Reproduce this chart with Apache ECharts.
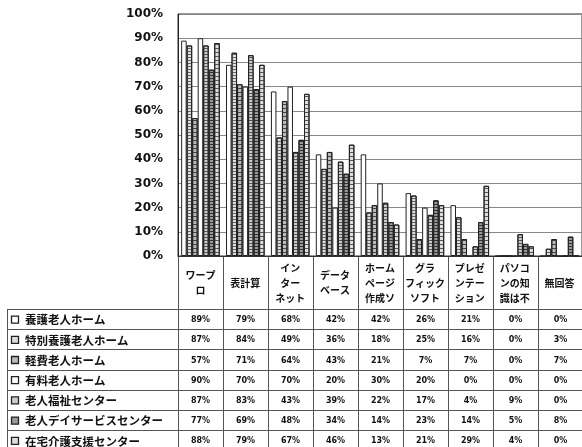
<!DOCTYPE html>
<html>
<head>
<meta charset="utf-8">
<script src="https://cdn.jsdelivr.net/npm/echarts@6/dist/echarts.min.js"></script>
<style>
html,body{margin:0;padding:0;background:#fff}
#main{width:582px;height:447px}
</style>
</head>
<body>
<div id="main"></div>
<script>
// 項目
var categories = ['ワープ\nロ', '表計算', 'イン\nター\nネット', 'データ\nベース', 'ホーム\nページ\n作成ソ', 'グラ\nフィック\nソフト', 'プレゼ\nンテー\nション', 'パソコ\nンの知\n識は不', '無回答'];
var seriesNames = ['養護老人ホーム', '特別養護老人ホーム', '軽費老人ホーム', '有料老人ホーム', '老人福祉センター', '老人デイサービスセンター', '在宅介護支援センター'];
// 施設別の割合 (%)
var yougo    = [89, 79, 68, 42, 42, 26, 21, 0, 0];
var tokuyou  = [87, 84, 49, 36, 18, 25, 16, 0, 3];
var keihi    = [57, 71, 64, 43, 21, 7, 7, 0, 7];
var yuuryou  = [90, 70, 70, 20, 30, 20, 0, 0, 0];
var fukushi  = [87, 83, 43, 39, 22, 17, 4, 9, 0];
var dayserv  = [77, 69, 48, 34, 14, 23, 14, 5, 8];
var zaitaku  = [88, 79, 67, 46, 13, 21, 29, 4, 0];
var yTicks = [0, 10, 20, 30, 40, 50, 60, 70, 80, 90, 100];

var allData = [yougo, tokuyou, keihi, yuuryou, fukushi, dayserv, zaitaku];

// 見た目 (白黒の模様)
var styles = [
  {color: '#fff', decal: null},
  {color: '#ddd', decal: {symbol: 'rect', symbolSize: 1, dashArrayX: [1, 0], dashArrayY: [1, 2], color: '#666'}},
  {color: '#bbb', decal: {symbol: 'rect', symbolSize: 1, dashArrayX: [1, 0], dashArrayY: [1, 3], color: '#444'}},
  {color: '#fff', decal: null},
  {color: '#ccc', decal: {symbol: 'rect', symbolSize: 1, dashArrayX: [1, 0], dashArrayY: [1, 2], color: '#555'}},
  {color: '#999', decal: {symbol: 'rect', symbolSize: 1, dashArrayX: [1, 0], dashArrayY: [1, 2], color: '#333'}},
  {color: '#ddd', decal: {symbol: 'rect', symbolSize: 1, dashArrayX: [1, 0], dashArrayY: [1, 3], color: '#555'}}
];

var gridLeft = 178, gridTop = 14, gridH = 242, colW = 45;
var axisY = gridTop + gridH;
var headBottom = 309, rowH = 20.2, tableLeft = 7;
var lineColor = '#555';
var jp = '"Noto Sans CJK JP", sans-serif';

var chart = echarts.init(document.getElementById('main'));

var series = seriesNames.map(function (name, i) {
  return {
    name: name,
    type: 'bar',
    data: allData[i],
    barGap: '0%',
    barCategoryGap: '14%',
    itemStyle: {
      color: styles[i].color,
      borderColor: '#222',
      borderWidth: 1,
      decal: styles[i].decal
    }
  };
});

// データテーブル
var graphics = [];
function hline(y, x1, x2) {
  graphics.push({type: 'line', shape: {x1: x1, y1: y, x2: x2, y2: y}, style: {stroke: lineColor, lineWidth: 1}, silent: true});
}
function vline(x, y1, y2) {
  graphics.push({type: 'line', shape: {x1: x, y1: y1, x2: x, y2: y2}, style: {stroke: lineColor, lineWidth: 1}, silent: true});
}
for (var r = 0; r <= seriesNames.length; r++) {
  hline(Math.round(headBottom + r * rowH) + 0.5, tableLeft, 582);
}
vline(tableLeft + 0.5, headBottom, 447);
for (var c = 0; c <= categories.length; c++) {
  vline(gridLeft + c * colW + 0.5, axisY, 447);
}
seriesNames.forEach(function (name, r) {
  var cy = headBottom + r * rowH + rowH / 2 + 1;
  graphics.push({type: 'rect', shape: {x: 11.5, y: cy - 4, width: 7, height: 7},
    style: {fill: styles[r].color, stroke: '#222', lineWidth: 1.3}, silent: true});
  graphics.push({type: 'text', style: {text: name, x: 25, y: cy, textVerticalAlign: 'middle',
    font: 'bold 11.5px ' + jp, fill: '#111'}, silent: true});
  allData[r].forEach(function (v, c) {
    graphics.push({type: 'text', style: {text: v + '%', x: gridLeft + c * colW + colW / 2, y: cy,
      textAlign: 'center', textVerticalAlign: 'middle',
      font: 'bold 8px "DejaVu Sans", sans-serif', fill: '#111'}, silent: true});
  });
});

var option = {
  animation: false,
  backgroundColor: '#fff',
  legend: {show: false},
  grid: {
    left: gridLeft, top: gridTop, width: colW * categories.length, height: gridH,
    show: true, borderColor: '#333', borderWidth: 1
  },
  xAxis: {
    type: 'category',
    data: categories,
    axisLine: {lineStyle: {color: '#333'}},
    axisTick: {show: false},
    axisLabel: {
      interval: 0,
      margin: 27,
      verticalAlign: 'middle',
      lineHeight: 15,
      fontSize: 10,
      fontWeight: 'bold',
      fontFamily: jp,
      color: '#111'
    }
  },
  yAxis: {
    type: 'value',
    min: yTicks[0],
    max: yTicks[yTicks.length - 1],
    interval: 10,
    axisLine: {show: true, lineStyle: {color: '#222'}},
    axisTick: {show: false},
    splitLine: {lineStyle: {color: '#888', width: 1}},
    axisLabel: {
      formatter: '{value}%',
      margin: 15,
      fontSize: 12,
      fontWeight: 'bold',
      fontFamily: '"DejaVu Sans", sans-serif',
      color: '#111'
    }
  },
  series: series,
  graphic: graphics
};

chart.setOption(option);
</script>
</body>
</html>
